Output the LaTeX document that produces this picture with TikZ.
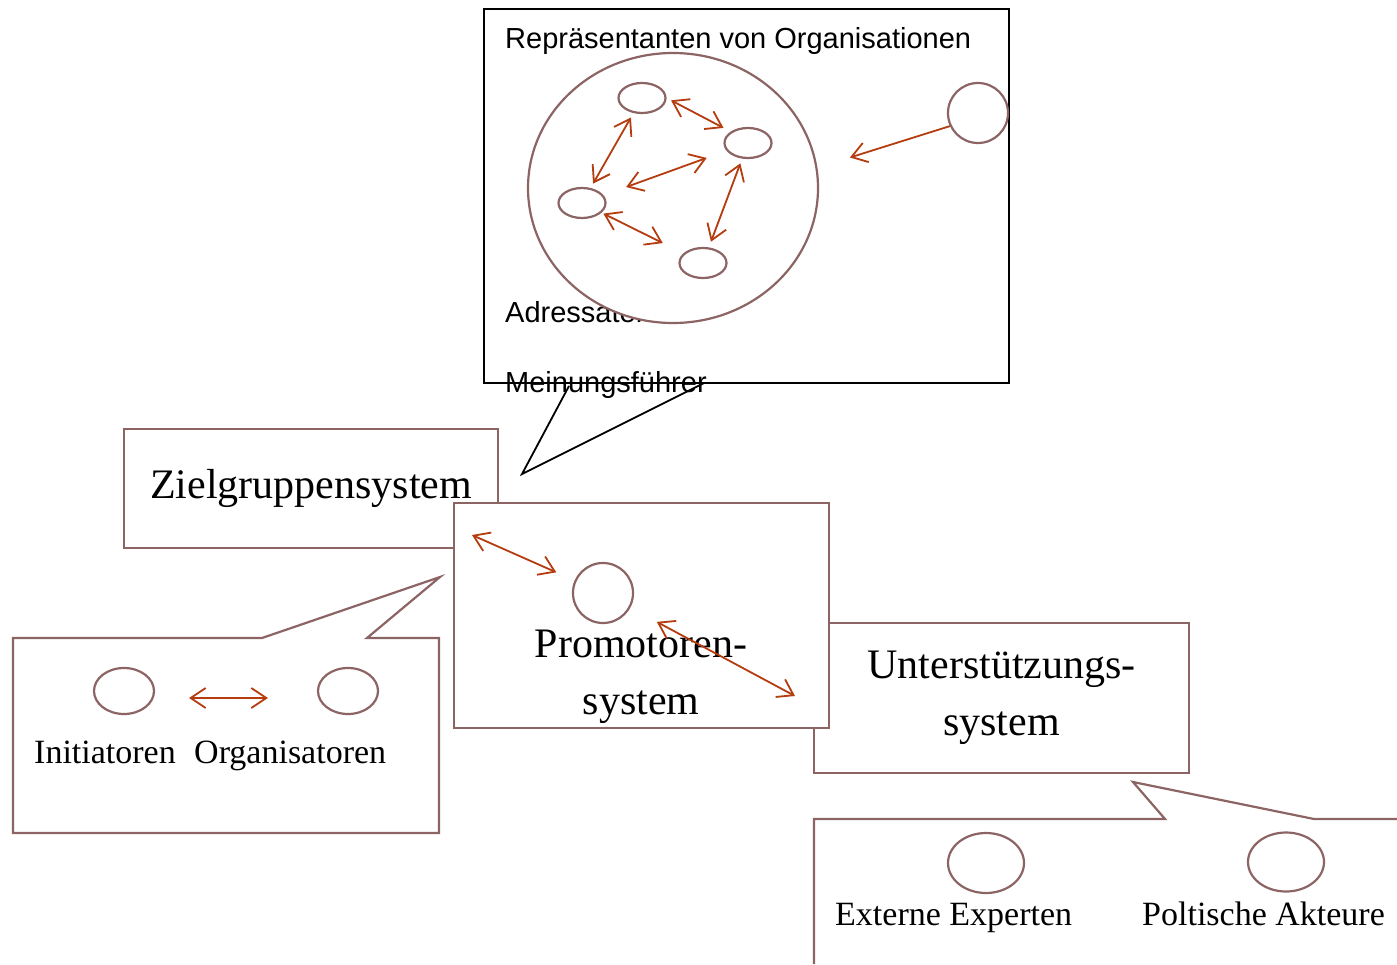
\documentclass[tikz,border=0pt]{standalone}
\usepackage{fontspec}
\setmainfont{Liberation Serif}
\setsansfont{Liberation Sans}
\usetikzlibrary{shapes.geometric}
\usetikzlibrary{arrows.meta}
\tikzset{>={Straight Barb[length=15pt,width=20pt]}}
\definecolor{rahmen}{RGB}{140,100,100}
\definecolor{pfeil}{RGB}{180,60,15}

\begin{document}
\begin{tikzpicture}[x=1pt, y=-1pt,
    box/.style={draw=rahmen, line width=2.2pt, fill=white},
    oval/.style={ellipse, draw=rahmen, line width=2.2pt, fill=white, inner sep=0pt},
    arr/.style={<->, draw=pfeil, line width=1.8pt},
    gross/.style={font=\fontsize{42}{57}\selectfont, align=center, inner sep=0pt},
    klein/.style={font=\fontsize{34}{40}\selectfont, inner sep=0pt, anchor=base west},
    sans/.style={font=\sffamily\fontsize{29}{34}\selectfont, inner sep=0pt, anchor=base west}]
  \useasboundingbox (0,0) rectangle (1397,964);

  % Zielgruppen, oben
  \node[sans] (rep) at (505,48) {Repräsentanten von Organisationen};
  \node[sans] (adr) at (505,322) {Adressaten};
  \node[sans] (mei) at (505,392) {Meinungsführer};
  \draw[line width=2pt] (484,9) rectangle (1009,383);
  \node[oval, minimum width=290, minimum height=270] (gross) at (673,188) {};
  \node[oval, minimum width=47, minimum height=30] (e1) at (642,98) {};
  \node[oval, minimum width=47, minimum height=30] (e2) at (748,143) {};
  \node[oval, minimum width=47, minimum height=30] (e3) at (582,203) {};
  \node[oval, minimum width=47, minimum height=30] (e4) at (703,263) {};
  \node[circle, draw=rahmen, line width=2.2pt, minimum size=60, inner sep=0pt] (rep1) at (978,113) {};
  \draw[arr, shorten <=5pt, shorten >=8pt] (e1.east) -- (e2.north west);
  \draw[arr, shorten <=5pt, shorten >=5pt] (e1) -- (e3);
  \draw[arr, shorten <=24pt, shorten >=21pt] (e3) -- (e2);
  \draw[arr, shorten <=5pt, shorten >=6pt] (e2) -- (e4);
  \draw[arr, shorten <=2pt, shorten >=23pt] (e3) -- (e4);
  \draw[->, draw=pfeil, line width=1.8pt, shorten >=34pt] (rep1.205) -- (gross.8);
  % sprechblase
  \coordinate (spitze) at (522,474);
  \draw[line width=1.8pt] (569,386) -- (spitze) -- (704,383);

  % systeme
  \node[box, minimum width=374, minimum height=119, font=\fontsize{42}{57}\selectfont] (ziel) at (311,488.5) {Zielgruppensystem};
  \node[box, minimum width=375, minimum height=150, gross] (unter) at (1001.5,698) {Unterstützungs-\\system};
  \node[box, minimum width=375, minimum height=225] (prom) at (641.5,615.5) {};
  \node[gross] (promtext) at (641,677) {Promotoren-\\system};
  \node[circle, draw=rahmen, line width=2.2pt, minimum size=60, inner sep=0pt] (pc) at (603,593) {};
  \coordinate (pa) at (472,535);
  \coordinate (pb) at (795,696);
  \draw[arr, shorten >=20pt] (pa) -- (pc);
  \draw[arr, shorten <=30pt] (pc) -- (pb);

  % promotoren, links
  \draw[box] (13,638) -- (262,638) -- (440,577) -- (367,638) -- (439,638) -- (439,833) -- (13,833) -- cycle;
  \node[oval, minimum width=60, minimum height=46] (ini) at (124,691) {};
  \node[oval, minimum width=60, minimum height=46] (org) at (348,691) {};
  \draw[arr, shorten <=34pt, shorten >=49pt] ([yshift=-7pt]ini.east) -- ([yshift=-7pt]org.west);
  \node[klein] (initext) at (34,763) {Initiatoren};
  \node[klein] (orgtext) at (194,763) {Organisatoren};

  % unterstuetzung, rechts
  \draw[draw=rahmen, line width=2.2pt] (1397,819) -- (1314,819) -- (1133,782) -- (1165,819) -- (814,819) -- (814,964);
  \node[oval, minimum width=76, minimum height=60] (ext) at (986,863) {};
  \node[oval, minimum width=76, minimum height=59] (pol) at (1286,862) {};
  \node[klein] (exttext) at (835,925) {Externe Experten};
  \node[klein] (poltext) at (1142,925) {Poltische Akteure};
\end{tikzpicture}
\end{document}
